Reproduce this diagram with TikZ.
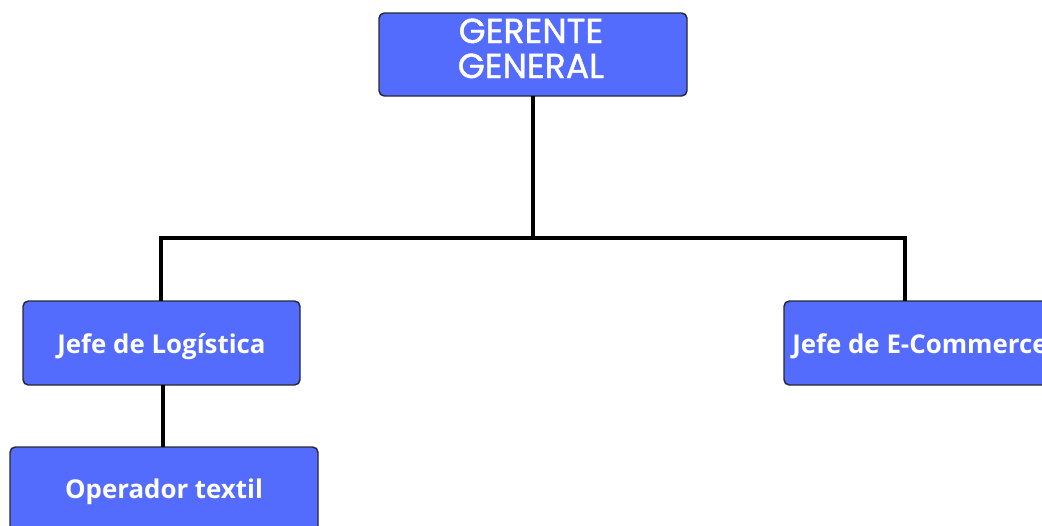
\documentclass[tikz,border=0pt]{standalone}
\usepackage{fontspec}
\setmainfont{Open Sans}
\newfontfamily\popfont[FakeBold=1.2]{Poppins}
\definecolor{boxblue}{RGB}{83,108,254}
\definecolor{boxedge}{RGB}{40,40,50}
\begin{document}
\begin{tikzpicture}[x=0.75pt,y=-0.75pt,
  orgbox/.style={draw=boxedge,line width=1.1pt,fill=boxblue,rounded corners=4pt},
  lbl/.style={text=white,font=\bfseries\fontsize{19.4}{23}\selectfont,anchor=base,inner sep=0pt},
  conn/.style={line width=2.3pt,black}]
\useasboundingbox (0,0) rectangle (1042,525);
\begin{scope}
\clip (0,0) rectangle (1042,525);
\draw[orgbox] (379,13) rectangle (687,96);
\node (gg) at (531,43) [text=white,anchor=base,inner sep=0pt,font=\popfont\fontsize{26}{26}\selectfont] {GERENTE};
\node (gg2) at (531,78) [text=white,anchor=base,inner sep=0pt,font=\popfont\fontsize{26}{26}\selectfont] {GENERAL};
\coordinate (ggb) at (533,96);
\draw[orgbox] (23,301) rectangle (300,385);
\node (jl) at (161.5,353) [lbl] {Jefe de Logística};
\coordinate (jlt) at (161,301);
\coordinate (jlb) at (163,385);
\draw[orgbox] (784,301) rectangle (1070,385);
\node (je) at (792,353) [lbl,anchor=base west] {Jefe de E-Commerce};
\coordinate (jet) at (905,301);
\draw[orgbox] (10,447) rectangle (318,545);
\node (op) at (164,498) [lbl] {Operador textil};
\coordinate (opt) at (163,447);
\end{scope}
\draw[conn] (ggb) -- (533,238);
\draw[conn] (jlt) -- (161,238) -- (905,238) -- (jet);
\draw[conn] (jlb) -- (opt);
\end{tikzpicture}
\end{document}
